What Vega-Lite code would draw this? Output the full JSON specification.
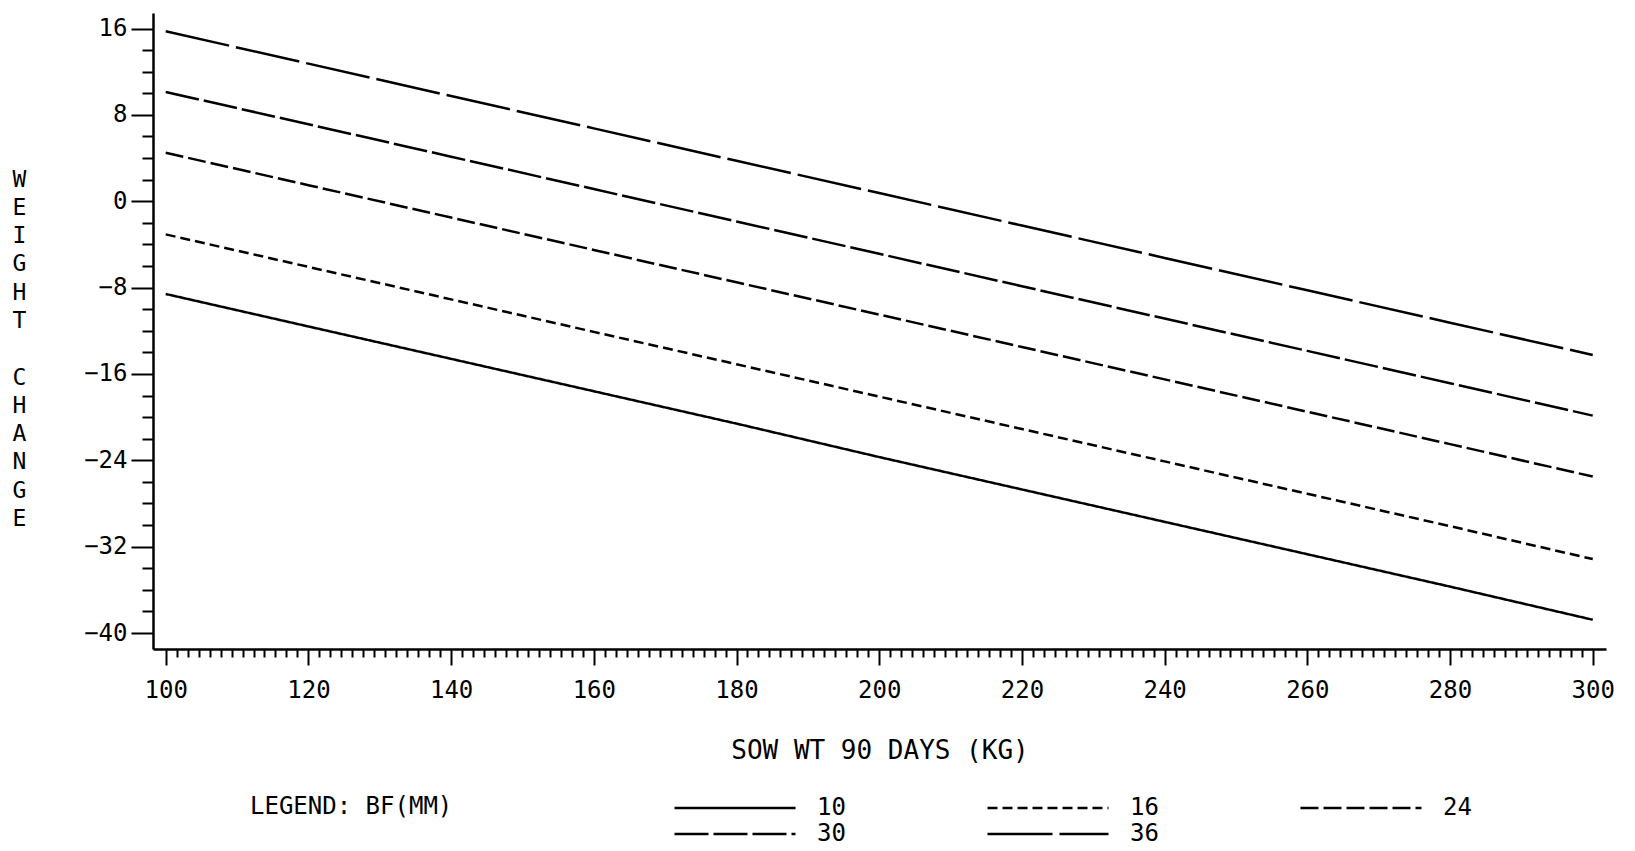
{
  "$schema": "https://vega.github.io/schema/vega-lite/v6.json",
  "autosize": "none",
  "padding": {"left": 153, "top": 13, "right": 29, "bottom": 202},
  "width": 1453,
  "height": 636,
  "background": "white",
  "data": {
    "values": [
      {"sow_wt": 100, "bf": "10", "weight_change": -8.59},
      {"sow_wt": 120, "bf": "10", "weight_change": -11.6},
      {"sow_wt": 140, "bf": "10", "weight_change": -14.6},
      {"sow_wt": 160, "bf": "10", "weight_change": -17.6},
      {"sow_wt": 180, "bf": "10", "weight_change": -20.6},
      {"sow_wt": 200, "bf": "10", "weight_change": -23.7},
      {"sow_wt": 220, "bf": "10", "weight_change": -26.7},
      {"sow_wt": 240, "bf": "10", "weight_change": -29.7},
      {"sow_wt": 260, "bf": "10", "weight_change": -32.7},
      {"sow_wt": 280, "bf": "10", "weight_change": -35.7},
      {"sow_wt": 300, "bf": "10", "weight_change": -38.77},
      {"sow_wt": 100, "bf": "16", "weight_change": -3.07},
      {"sow_wt": 120, "bf": "16", "weight_change": -6.08},
      {"sow_wt": 140, "bf": "16", "weight_change": -9.09},
      {"sow_wt": 160, "bf": "16", "weight_change": -12.1},
      {"sow_wt": 180, "bf": "16", "weight_change": -15.1},
      {"sow_wt": 200, "bf": "16", "weight_change": -18.1},
      {"sow_wt": 220, "bf": "16", "weight_change": -21.1},
      {"sow_wt": 240, "bf": "16", "weight_change": -24.1},
      {"sow_wt": 260, "bf": "16", "weight_change": -27.1},
      {"sow_wt": 280, "bf": "16", "weight_change": -30.1},
      {"sow_wt": 300, "bf": "16", "weight_change": -33.15},
      {"sow_wt": 100, "bf": "24", "weight_change": 4.49},
      {"sow_wt": 120, "bf": "24", "weight_change": 1.49},
      {"sow_wt": 140, "bf": "24", "weight_change": -1.51},
      {"sow_wt": 160, "bf": "24", "weight_change": -4.51},
      {"sow_wt": 180, "bf": "24", "weight_change": -7.51},
      {"sow_wt": 200, "bf": "24", "weight_change": -10.5},
      {"sow_wt": 220, "bf": "24", "weight_change": -13.5},
      {"sow_wt": 240, "bf": "24", "weight_change": -16.5},
      {"sow_wt": 260, "bf": "24", "weight_change": -19.5},
      {"sow_wt": 280, "bf": "24", "weight_change": -22.5},
      {"sow_wt": 300, "bf": "24", "weight_change": -25.5},
      {"sow_wt": 100, "bf": "30", "weight_change": 10.13},
      {"sow_wt": 120, "bf": "30", "weight_change": 7.13},
      {"sow_wt": 140, "bf": "30", "weight_change": 4.13},
      {"sow_wt": 160, "bf": "30", "weight_change": 1.13},
      {"sow_wt": 180, "bf": "30", "weight_change": -1.87},
      {"sow_wt": 200, "bf": "30", "weight_change": -4.87},
      {"sow_wt": 220, "bf": "30", "weight_change": -7.87},
      {"sow_wt": 240, "bf": "30", "weight_change": -10.87},
      {"sow_wt": 260, "bf": "30", "weight_change": -13.86},
      {"sow_wt": 280, "bf": "30", "weight_change": -16.86},
      {"sow_wt": 300, "bf": "30", "weight_change": -19.86},
      {"sow_wt": 100, "bf": "36", "weight_change": 15.75},
      {"sow_wt": 120, "bf": "36", "weight_change": 12.75},
      {"sow_wt": 140, "bf": "36", "weight_change": 9.75},
      {"sow_wt": 160, "bf": "36", "weight_change": 6.75},
      {"sow_wt": 180, "bf": "36", "weight_change": 3.75},
      {"sow_wt": 200, "bf": "36", "weight_change": 0.76},
      {"sow_wt": 220, "bf": "36", "weight_change": -2.25},
      {"sow_wt": 240, "bf": "36", "weight_change": -5.25},
      {"sow_wt": 260, "bf": "36", "weight_change": -8.25},
      {"sow_wt": 280, "bf": "36", "weight_change": -11.25},
      {"sow_wt": 300, "bf": "36", "weight_change": -14.24}
    ]
  },
  "resolve": {
    "scale": {"x": "independent", "y": "independent"},
    "axis": {"x": "independent", "y": "independent"}
  },
  "layer": [
    {
      "mark": {"type": "line", "color": "black", "strokeWidth": 2.5},
      "encoding": {
        "x": {
          "field": "sow_wt",
          "type": "quantitative",
          "scale": {"domain": [98.22, 301.86], "nice": false, "zero": false},
          "axis": {
            "orient": "bottom",
            "title": "SOW WT 90 DAYS (KG)",
            "values": [100, 120, 140, 160, 180, 200, 220, 240, 260, 280, 300],
            "tickSize": 16,
            "tickWidth": 2,
            "domainWidth": 2.5,
            "labelFontSize": 24,
            "labelBaseline": "alphabetic",
            "labelPadding": 32,
            "labelOverlap": false,
            "labelFlush": false,
            "titleFontSize": 26,
            "titleX": 726.5,
            "titleY": 109,
            "titleAlign": "center",
            "titleBaseline": "alphabetic"
          }
        },
        "y": {
          "field": "weight_change",
          "type": "quantitative",
          "scale": {"domain": [-41.48, 17.44], "nice": false, "zero": false},
          "axis": {
            "orient": "left",
            "title": ["W", "E", "I", "G", "H", "T"],
            "values": [-40, -32, -24, -16, -8, 0, 8, 16],
            "tickSize": 22,
            "tickWidth": 2,
            "domainWidth": 2.5,
            "labelFontSize": 24,
            "labelPadding": 4,
            "labelOverlap": false,
            "labelFlush": false,
            "titleFontSize": 23,
            "titleAngle": 0,
            "titleX": -134,
            "titleY": 155,
            "titleAlign": "center",
            "titleBaseline": "top",
            "titleLineHeight": 28.3
          }
        },
        "strokeDash": {
          "field": "bf",
          "type": "nominal",
          "scale": {
            "domain": ["10", "16", "24", "30", "36"],
            "range": [[1, 0], [10, 5], [18, 5], [34, 5], [65, 7]]
          },
          "legend": {
            "orient": "none",
            "direction": "horizontal",
            "legendX": 97,
            "legendY": 782,
            "columns": 3,
            "title": "LEGEND: BF(MM)",
            "titleOrient": "left",
            "titleAnchor": "start",
            "titleBaseline": "top",
            "titlePadding": 220,
            "titleLimit": 1000,
            "titleFontSize": 24,
            "titleFont": "DejaVu Sans Mono",
            "titleFontWeight": "normal",
            "titleColor": "black",
            "symbolType": "stroke",
            "symbolSize": 14641,
            "symbolStrokeWidth": 2.5,
            "symbolStrokeColor": "black",
            "labelOffset": 20,
            "labelFontSize": 24,
            "labelFont": "DejaVu Sans Mono",
            "labelColor": "black",
            "columnPadding": 140,
            "rowPadding": 0,
            "clipHeight": 26
          }
        }
      }
    },
    {
      "mark": {"type": "point", "opacity": 0},
      "encoding": {
        "x": {
          "field": "sow_wt",
          "type": "quantitative",
          "scale": {"domain": [98.22, 301.86], "nice": false, "zero": false},
          "axis": {
            "orient": "bottom",
            "title": null,
            "labels": false,
            "domain": false,
            "tickSize": 8,
            "tickWidth": 2,
            "values": [101.5385, 103.0769, 104.6154, 106.1538, 107.6923, 109.2308, 110.7692, 112.3077, 113.8462, 115.3846, 116.9231, 118.4615,
                       121.5385, 123.0769, 124.6154, 126.1538, 127.6923, 129.2308, 130.7692, 132.3077, 133.8462, 135.3846, 136.9231, 138.4615,
                       141.5385, 143.0769, 144.6154, 146.1538, 147.6923, 149.2308, 150.7692, 152.3077, 153.8462, 155.3846, 156.9231, 158.4615,
                       161.5385, 163.0769, 164.6154, 166.1538, 167.6923, 169.2308, 170.7692, 172.3077, 173.8462, 175.3846, 176.9231, 178.4615,
                       181.5385, 183.0769, 184.6154, 186.1538, 187.6923, 189.2308, 190.7692, 192.3077, 193.8462, 195.3846, 196.9231, 198.4615,
                       201.5385, 203.0769, 204.6154, 206.1538, 207.6923, 209.2308, 210.7692, 212.3077, 213.8462, 215.3846, 216.9231, 218.4615,
                       221.5385, 223.0769, 224.6154, 226.1538, 227.6923, 229.2308, 230.7692, 232.3077, 233.8462, 235.3846, 236.9231, 238.4615,
                       241.5385, 243.0769, 244.6154, 246.1538, 247.6923, 249.2308, 250.7692, 252.3077, 253.8462, 255.3846, 256.9231, 258.4615,
                       261.5385, 263.0769, 264.6154, 266.1538, 267.6923, 269.2308, 270.7692, 272.3077, 273.8462, 275.3846, 276.9231, 278.4615,
                       281.5385, 283.0769, 284.6154, 286.1538, 287.6923, 289.2308, 290.7692, 292.3077, 293.8462, 295.3846, 296.9231, 298.4615]
          }
        },
        "y": {
          "field": "weight_change",
          "type": "quantitative",
          "scale": {"domain": [-41.48, 17.44], "nice": false, "zero": false},
          "axis": {
            "orient": "left",
            "title": ["C", "H", "A", "N", "G", "E"],
            "titleFontSize": 23,
            "titleAngle": 0,
            "titleX": -134,
            "titleY": 353,
            "titleAlign": "center",
            "titleBaseline": "top",
            "titleLineHeight": 28.3,
            "labels": false,
            "domain": false,
            "tickSize": 11,
            "tickWidth": 2,
            "values": [-38, -36, -34, -30, -28, -26, -22, -20, -18, -14, -12, -10, -6, -4, -2, 2, 4, 6, 10, 12, 14]
          }
        }
      }
    }
  ],
  "config": {
    "view": {"stroke": null},
    "font": "DejaVu Sans Mono",
    "axis": {
      "grid": false,
      "domainColor": "black",
      "tickColor": "black",
      "labelColor": "black",
      "titleColor": "black",
      "labelFont": "DejaVu Sans Mono",
      "titleFont": "DejaVu Sans Mono",
      "titleFontWeight": "normal"
    }
  }
}
